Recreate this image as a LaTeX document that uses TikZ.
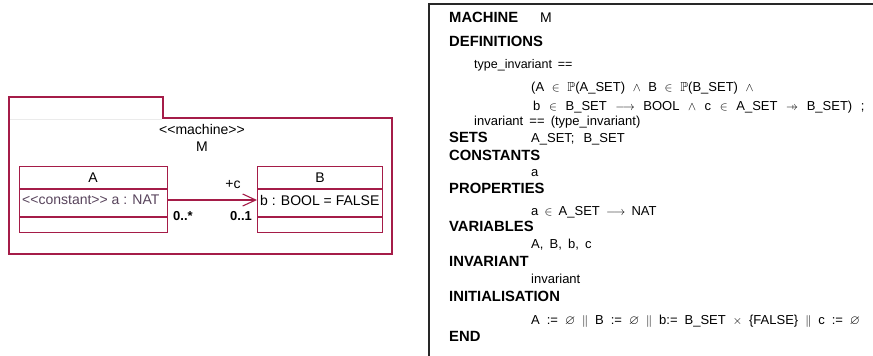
\documentclass[tikz,border=0pt]{standalone}
\usepackage{amssymb}
\usepackage{fontspec}
\setmainfont{Liberation Sans}
\newfontfamily\bmtext[WordSpace=1.7]{Liberation Sans}
\usetikzlibrary{arrows.meta}
\definecolor{umlred}{RGB}{165,28,72}
\definecolor{attrcol}{RGB}{88,68,92}
\definecolor{boxgray}{RGB}{40,40,40}
\newcommand{\pfunarrow}{\mathrel{\ooalign{$\rightarrow$\cr\hfil$\mapstochar$\hfil\cr}}}
\tikzset{
  umlline/.style={draw=umlred, line width=1.1pt},
  lbl/.style={font=\fontsize{14}{16}\selectfont, inner sep=0},
  mult/.style={font=\bfseries\fontsize{13}{15}\selectfont, inner sep=0},
  kw/.style={anchor=base west, font=\bfseries\fontsize{14.8}{16}\selectfont, inner sep=0},
  txt/.style={anchor=base west, font=\bmtext\fontsize{13}{15}\selectfont, inner sep=0},
  classbox/.style={umlline, rectangle, inner sep=0, anchor=north west},
}
\begin{document}
\begin{tikzpicture}[x=1pt, y=-1pt]
\useasboundingbox[fill=white] (0,0) rectangle (873,356);
% ---------- left: UML package ----------
\draw[umlline] (9,254) -- (9,97) -- (163,97) -- (163,118) -- (392,118) -- (392,254) -- cycle;
\draw[black!8, line width=0.8pt] (10,119.5) -- (162,119.5);
\node[lbl] (stereo) at (202,129) {{<}{<}machine{>}{>}};
\node[lbl] (pkgname) at (202,147) {M};
% class A
\node[classbox, minimum width=148pt, minimum height=66pt] (A) at (19,166) {};
\draw[umlline] ([yshift=-23pt]A.north west) -- ([yshift=-23pt]A.north east);
\draw[umlline] ([yshift=-51pt]A.north west) -- ([yshift=-51pt]A.north east);
\node[lbl] (Aname) at (93,178) {A};
\node[lbl, anchor=west, text=attrcol] (Aattr) at (22,200) {{<}{<}constant{>}{>} a : NAT};
% class B
\node[classbox, minimum width=125pt, minimum height=66pt] (B) at (257,166) {};
\draw[umlline] ([yshift=-23pt]B.north west) -- ([yshift=-23pt]B.north east);
\draw[umlline] ([yshift=-51pt]B.north west) -- ([yshift=-51pt]B.north east);
\node[lbl] (Bname) at (320,178) {B};
\node[lbl, anchor=west] (Battr) at (260,200) {b : BOOL = FALSE};
% association
\draw[umlline, -{Straight Barb[length=13pt, width=12pt]}] (A.east |- Aattr) -- (B.west |- Aattr);
\node[lbl] (role) at (233,185) {+c};
\node[mult] (multA) at (183,216) {0..*};
\node[mult] (multB) at (241,216) {0..1};
% ---------- right: B machine text ----------
\draw[boxgray, line width=2pt] (429,360) -- (429,4) -- (880,4);
\node[kw] (k1) at (449,22) {MACHINE};
\node[txt, font=\fontsize{14}{15}\selectfont] (t1) at (540,22) {M};
\node[kw] (k2) at (449,46) {DEFINITIONS};
\node[txt, font={\bmtext\fontsize{12.5}{15}\selectfont}] (t2) at (474,68) {type\_invariant ==};
\node[txt, font={\bmtext\fontsize{13}{15}\selectfont\spaceskip=7.6pt\relax}] (t3) at (531,91) {(A $\in$ $\mathbb{P}$(A\_SET) $\wedge$ B $\in$ $\mathbb{P}$(B\_SET) $\wedge$};
\node[txt, font={\bmtext\fontsize{13}{15}\selectfont\spaceskip=8.6pt\relax}] (t4) at (533,110) {b $\in$ B\_SET $\longrightarrow$ BOOL $\wedge$ c $\in$ A\_SET $\pfunarrow$ B\_SET) ;};
\node[txt] (t5) at (474,125) {invariant == (type\_invariant)};
\node[kw] (k3) at (449,142) {SETS};
\node[txt, font={\bmtext\fontsize{13}{15}\selectfont\spaceskip=9pt\relax}] (t6) at (531,142) {A\_SET; B\_SET};
\node[kw] (k4) at (449,160) {CONSTANTS};
\node[txt] (t7) at (531,176) {a};
\node[kw] (k5) at (449,193) {PROPERTIES};
\node[txt] (t8) at (531,215) {a $\in$ A\_SET $\longrightarrow$ NAT};
\node[kw] (k6) at (449,231) {VARIABLES};
\node[txt] (t9) at (531,248) {A, B, b, c};
\node[kw] (k7) at (449,266) {INVARIANT};
\node[txt] (t10) at (531,283) {invariant};
\node[kw] (k8) at (449,301) {INITIALISATION};
\node[txt, font={\bmtext\fontsize{13}{15}\selectfont\spaceskip=7pt\relax}] (t11) at (531,324) {A := $\varnothing$ $\parallel$ B := $\varnothing$ $\parallel$ b:= B\_SET $\times$ \{FALSE\} $\parallel$ c := $\varnothing$};
\node[kw] (k9) at (449,341) {END};
\end{tikzpicture}
\end{document}
